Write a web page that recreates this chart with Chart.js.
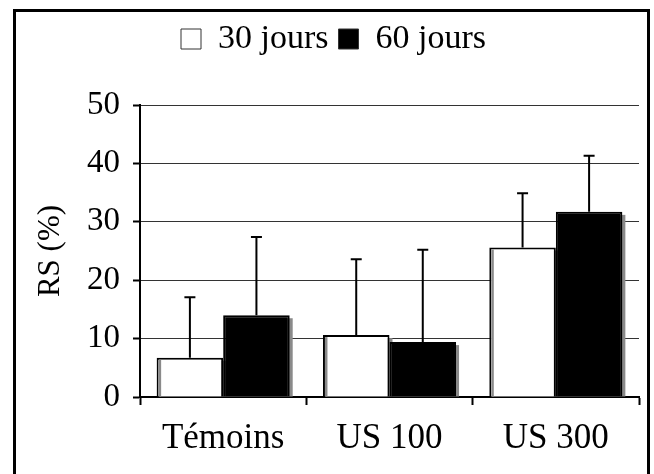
<!DOCTYPE html>
<html>
<head>
<meta charset="utf-8">
<script src="https://cdn.jsdelivr.net/npm/chart.js@4/dist/chart.umd.min.js"></script>
<style>
  html, body { margin: 0; padding: 0; background: #fff; }
  canvas { display: block; }
</style>
</head>
<body>
<canvas id="chart" width="654" height="474"></canvas>
<script>
// values (RS %, mean + upper SD)
const categories = ['Témoins', 'US 100', 'US 300'];
const seriesNames = ['30 jours', '60 jours'];
const rs30 = [6.7, 10.6, 25.6];
const rs60 = [14.0, 9.4, 31.7];
const sd30 = [10.4, 13.0, 9.3];
const sd60 = [13.4, 15.8, 9.6];
const yTicks = [0, 10, 20, 30, 40, 50];

const serif = "'Liberation Serif', 'Times New Roman', serif";

// gray drop shadow behind each bar, like the old spreadsheet look
const barShadow = {
    id: 'barShadow',
    beforeDatasetsDraw(chart) {
        const ctx = chart.ctx;
        ctx.save();
        ctx.fillStyle = '#8a8a8a';
        chart.data.datasets.forEach((ds, i) => {
            chart.getDatasetMeta(i).data.forEach(bar => {
                const p = bar.getProps(['x', 'y', 'base', 'width'], true);
                ctx.fillRect(p.x - p.width / 2 + 3, p.y + 3, p.width, p.base - p.y - 3);
            });
        });
        ctx.restore();
    },
    afterDatasetsDraw(chart) {
        const ctx = chart.ctx;
        ctx.save();
        // inner gray line on the left of the white bars
        ctx.fillStyle = '#8a8a8a';
        chart.getDatasetMeta(0).data.forEach(bar => {
            const p = bar.getProps(['x', 'y', 'base', 'width'], true);
            ctx.fillRect(p.x - p.width / 2 + 2, p.y + 2, 2.5, p.base - p.y - 2);
        });
        // error bars (upward only)
        const yScale = chart.scales.y;
        const errs = [sd30, sd60];
        ctx.strokeStyle = '#000';
        ctx.lineWidth = 2;
        chart.data.datasets.forEach((ds, i) => {
            chart.getDatasetMeta(i).data.forEach((bar, j) => {
                const p = bar.getProps(['x', 'y'], true);
                const top = yScale.getPixelForValue(ds.data[j] + errs[i][j]);
                ctx.beginPath();
                ctx.moveTo(p.x, p.y);
                ctx.lineTo(p.x, top);
                ctx.moveTo(p.x - 5.5, top);
                ctx.lineTo(p.x + 5.5, top);
                ctx.stroke();
            });
        });
        ctx.restore();
    }
};

// more room between the legend and the plot
const legendGap = {
    id: 'legendGap',
    afterInit(chart) {
        const fit = chart.legend.fit;
        chart.legend.fit = function () {
            fit.call(this);
            this.height += 39;
        };
    }
};

// outer frame of the figure
const frame = {
    id: 'frame',
    afterDraw(chart) {
        const ctx = chart.ctx;
        ctx.save();
        ctx.strokeStyle = '#000';
        ctx.lineWidth = 3;
        ctx.strokeRect(14.5, 10.5, 634, 480);
        ctx.restore();
    }
};

new Chart(document.getElementById('chart'), {
    type: 'bar',
    data: {
        labels: categories,
        datasets: [{
            label: seriesNames[0],
            data: rs30,
            backgroundColor: '#fff',
            borderColor: '#000',
            borderWidth: 2
        }, {
            label: seriesNames[1],
            data: rs60,
            backgroundColor: '#000',
            borderColor: '#000',
            borderWidth: 2
        }]
    },
    options: {
        responsive: false,
        animation: false,
        layout: { padding: { left: 28, right: 15, top: 12, bottom: 0 } },
        datasets: {
            bar: { barPercentage: 1, categoryPercentage: 0.8 }
        },
        plugins: {
            legend: {
                position: 'top',
                labels: {
                    color: '#000',
                    font: { family: serif, size: 34 },
                    boxWidth: 20,
                    boxHeight: 20,
                    padding: 10,
                    generateLabels(chart) {
                        return chart.data.datasets.map((ds, i) => ({
                            text: ds.label,
                            fillStyle: ds.backgroundColor,
                            strokeStyle: '#333',
                            lineWidth: 1,
                            fontColor: '#000',
                            datasetIndex: i
                        }));
                    }
                }
            },
            tooltip: { enabled: false }
        },
        scales: {
            x: {
                grid: {
                    drawOnChartArea: false,
                    offset: true,
                    tickLength: 8,
                    tickColor: '#000',
                    tickWidth: 2
                },
                border: { display: true, color: '#000', width: 2 },
                ticks: {
                    color: '#000',
                    font: { family: serif, size: 35 },
                    padding: 13
                },
                afterFit(scale) { scale.height = 77; }
            },
            y: {
                min: yTicks[0],
                max: yTicks[yTicks.length - 1],
                grid: {
                    color: c => (c.tick && c.tick.value % 10 === 0) ? '#333' : 'rgba(0,0,0,0)',
                    lineWidth: 1,
                    tickLength: 7,
                    tickColor: '#000',
                    tickWidth: 2
                },
                border: { display: true, color: '#000', width: 2 },
                ticks: {
                    stepSize: 5,
                    color: '#000',
                    font: { family: serif, size: 33 },
                    padding: 13,
                    callback: v => yTicks.includes(v) ? v : ''
                },
                title: {
                    display: true,
                    text: 'RS (%)',
                    color: '#000',
                    font: { family: serif, size: 31 }
                },
                afterFit(scale) { scale.width = 112; }
            }
        }
    },
    plugins: [barShadow, legendGap, frame]
});
</script>
</body>
</html>
